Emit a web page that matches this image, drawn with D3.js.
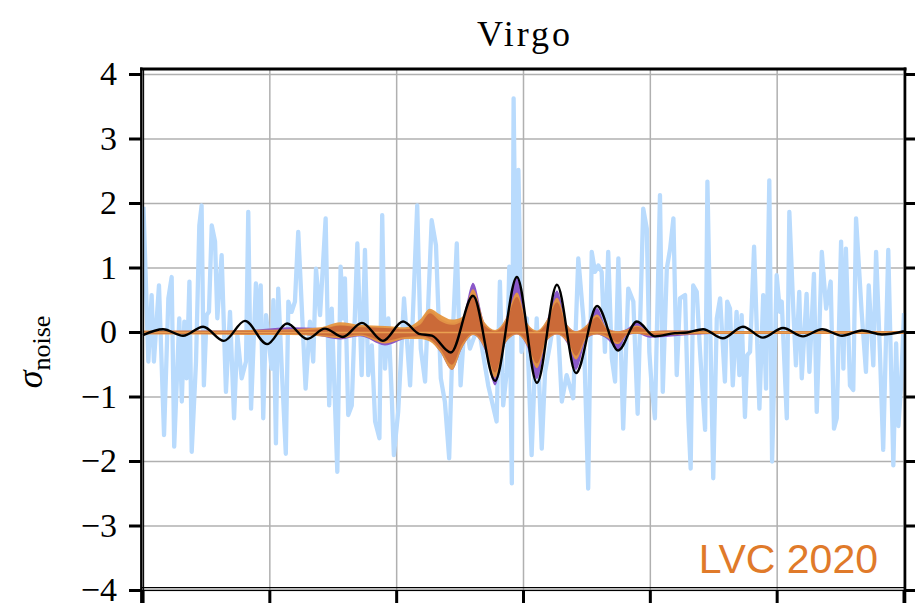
<!DOCTYPE html>
<html>
<head>
<meta charset="utf-8">
<script src="https://cdn.jsdelivr.net/npm/d3@7/dist/d3.min.js"></script>
<style>
  html, body { margin: 0; padding: 0; background: #fff; }
  svg { display: block; }
</style>
</head>
<body>
<div id="chart"></div>
<script>
// Time in ms relative to the event; whitened strain in units of noise sigma.
const xTicks = [-150, -100, -50, 0, 50, 100, 150];
const yTicks = [-4, -3, -2, -1, 0, 1, 2, 3, 4];

// Whitened Virgo data (light blue trace)
const noiseT = [-149.8,-147.9,-146.6,-145.7,-143.7,-141.7,-140.0,-138.7,-137.7,-135.7,-134.7,-133.7,-132.8,-131.7,-130.8,-129.1,-127.8,-126.9,-126.0,-124.9,-124.0,-122.9,-121.6,-120.7,-119.0,-117.3,-115.7,-114.1,-112.8,-111.1,-109.4,-108.5,-107.4,-105.5,-104.5,-103.6,-102.6,-101.5,-99.3,-98.6,-97.6,-96.7,-95.3,-93.7,-92.7,-91.4,-90.1,-88.8,-85.9,-84.2,-82.9,-81.8,-80.2,-78.0,-76.6,-75.6,-73.4,-72.1,-71.0,-70.4,-69.1,-67.7,-65.5,-63.8,-62.5,-61.2,-59.8,-58.5,-56.8,-55.7,-54.6,-53.3,-52.0,-51.1,-49.4,-47.1,-44.7,-41.9,-40.5,-38.8,-36.2,-34.5,-32.6,-31.0,-29.3,-27.9,-26.3,-24.8,-23.1,-21.1,-17.8,-13.9,-10.6,-9.3,-8.0,-6.6,-5.6,-4.6,-3.9,-3.0,-2.0,-0.8,1.3,3.2,5.2,7.2,8.5,10.4,13.1,15.1,17.0,19.6,21.6,23.6,25.5,26.9,28.2,29.5,30.8,32.1,33.4,34.8,36.1,37.4,39.3,41.3,43.3,45.0,47.2,48.6,49.6,50.5,51.8,53.8,54.9,56.5,57.8,59.1,60.4,61.7,63.7,65.0,65.9,66.9,68.3,69.6,71.6,72.5,73.8,74.8,76.2,77.5,79.4,80.3,81.4,82.5,84.0,85.1,86.0,87.3,88.2,89.3,90.9,93.0,94.5,95.6,96.9,98.0,99.8,101.1,101.8,103.8,104.8,106.4,107.4,108.7,109.7,111.6,112.7,114.5,115.6,117.6,119.3,121.1,122.4,123.5,125.2,126.1,127.1,128.7,130.0,131.1,133.3,135.0,136.1,137.9,139.0,140.5,141.8,143.8,145.8,146.9,147.8,148.8,150.0];
const noiseV = [1.95,-0.45,0.58,-0.45,0.73,-1.59,0.53,0.86,-1.77,0.22,-1.07,0.17,-0.71,0.79,-1.85,-0.45,1.66,1.97,-0.82,0.27,0.32,1.66,1.41,0.22,1.20,-0.92,0.32,-1.33,-0.04,-0.71,-0.45,1.87,-1.18,0.76,0.01,0.73,-1.33,0.27,-0.56,0.50,-1.72,0.68,-0.56,-1.88,0.48,0.32,0.48,1.56,-0.87,0.17,-0.45,0.99,0.27,1.77,-1.13,0.37,-2.16,1.02,0.22,0.84,-1.28,-1.13,1.38,-0.66,1.28,-0.66,-0.20,-1.38,-1.64,1.82,-0.56,0.22,-0.92,-1.90,-1.23,0.53,-0.82,1.97,-0.25,-0.76,1.74,1.35,-0.71,-1.07,-1.95,-0.04,1.38,-0.82,0.22,-0.25,0.11,-0.82,-1.38,0.79,-1.13,-0.61,1.02,-2.34,3.63,0.50,2.52,-0.30,0.22,-1.90,0.22,-1.80,-0.61,-0.20,0.48,-1.07,-0.66,-1.02,1.15,0.22,-2.42,1.25,0.94,1.04,0.94,-0.30,1.25,-0.40,-0.76,1.15,-1.49,0.68,0.48,-1.26,1.92,1.61,-0.30,-0.82,-1.33,2.13,-0.92,0.99,1.30,1.77,-0.66,0.53,0.58,-1.33,-2.11,0.73,0.63,-0.30,-1.51,2.34,-0.30,-2.26,0.22,0.53,-0.76,0.48,0.37,-0.82,0.32,-0.66,0.27,-1.31,-0.35,-0.30,1.33,-1.18,0.58,-0.87,2.36,-2.00,0.89,0.32,0.48,-1.33,1.87,0.32,-0.51,0.63,-0.71,0.60,-0.61,0.91,-1.23,1.25,0.37,0.79,-1.49,-1.33,1.41,-0.56,1.30,-0.82,-0.89,1.77,0.32,-0.61,0.73,-0.51,1.25,-0.30,-1.82,1.28,-2.06,-0.17,-1.45,-0.85,0.30];

// Whitened maximum-likelihood waveform (black)
const waveT = [-150.0,-142.1,-134.2,-126.3,-118.1,-109.8,-101.1,-93.2,-85.3,-78.3,-71.2,-63.7,-55.4,-47.5,-41.2,-36.1,-28.6,-19.9,-11.2,-2.6,5.3,13.2,20.7,29.0,37.3,44.7,51.8,59.7,64.5,70.8,78.6,86.5,94.4,102.3,110.2,117.7,125.6,133.4,141.3,150.0];
const waveV = [-0.04,0.05,-0.05,0.09,-0.13,0.18,-0.18,0.14,-0.10,0.06,-0.07,0.15,-0.13,0.17,-0.02,-0.05,-0.31,0.57,-0.75,0.86,-0.78,0.74,-0.63,0.41,-0.28,0.17,-0.06,-0.01,0.00,0.05,-0.09,0.09,-0.08,0.07,-0.06,0.05,-0.05,0.03,-0.03,0.02];

// 90% credible bands of the reconstructions
const bandT    = [-150.0,-127.5,-107.8,-92.0,-80.2,-72.3,-64.5,-54.6,-46.7,-40.8,-36.9,-32.9,-28.2,-24.2,-19.9,-15.2,-11.2,-6.9,-2.6,1.4,5.3,9.3,13.2,17.2,20.7,25.0,29.0,32.9,37.3,40.8,44.7,49.9,55.8,65.6,77.5,150.0];
const lvcHi    = [0.03,0.03,0.04,0.05,0.08,0.16,0.12,0.10,0.08,0.20,0.37,0.28,0.20,0.24,0.67,0.15,0.04,0.22,0.62,0.15,0.03,0.20,0.54,0.12,0.02,0.12,0.28,0.07,0.02,0.05,0.11,0.02,0.03,0.03,0.025,0.025];
const lvcLo    = [-0.03,-0.03,-0.04,-0.04,-0.06,-0.09,-0.05,-0.17,-0.10,-0.10,-0.14,-0.30,-0.58,-0.24,-0.04,-0.26,-0.70,-0.15,-0.03,-0.20,-0.55,-0.12,-0.03,-0.15,-0.42,-0.08,-0.03,-0.08,-0.18,-0.04,-0.02,-0.05,-0.04,-0.03,-0.025,-0.025];
const lvcCoreHi = [0.02,0.02,0.025,0.03,0.05,0.11,0.08,0.07,0.05,0.12,0.30,0.18,0.12,0.18,0.58,0.10,0.02,0.17,0.55,0.10,0.01,0.15,0.47,0.08,0.01,0.09,0.24,0.05,0.01,0.03,0.09,0.01,0.02,0.02,0.015,0.015];
const lvcCoreLo = [-0.02,-0.02,-0.025,-0.02,-0.04,-0.06,-0.03,-0.13,-0.07,-0.06,-0.10,-0.25,-0.50,-0.18,-0.02,-0.20,-0.62,-0.10,-0.02,-0.15,-0.48,-0.08,-0.02,-0.11,-0.36,-0.05,-0.02,-0.05,-0.15,-0.03,-0.01,-0.04,-0.03,-0.02,-0.015,-0.015];
const altHi    = [0.02,0.03,0.04,0.08,0.07,0.12,0.10,0.07,0.06,0.15,0.34,0.22,0.15,0.22,0.77,0.14,0.03,0.22,0.85,0.14,0.02,0.20,0.65,0.12,0.02,0.12,0.38,0.07,0.02,0.06,0.16,0.02,0.03,0.03,0.02,0.01];
const altLo    = [-0.02,-0.02,-0.03,-0.03,-0.06,-0.11,-0.06,-0.20,-0.10,-0.08,-0.12,-0.30,-0.58,-0.24,-0.04,-0.28,-0.82,-0.15,-0.03,-0.22,-0.72,-0.12,-0.03,-0.17,-0.58,-0.09,-0.03,-0.10,-0.26,-0.05,-0.02,-0.08,-0.07,-0.04,-0.02,-0.01];

const W = 915, H = 603;
const svg = d3.select("#chart").append("svg")
  .attr("width", W).attr("height", H)
  .attr("viewBox", `0 0 ${W} ${H}`);

const x = d3.scaleLinear().domain([-150, 150]).range([143, 904]);
const y = d3.scaleLinear().domain([-4, 4]).range([590.5, 74.5]);

const serif = "'Liberation Serif', 'Times New Roman', serif";

// grid
const grid = svg.append("g").attr("stroke", "#b0b0b0").attr("stroke-width", 1.5);
grid.selectAll("line.gx").data(xTicks).join("line")
  .attr("x1", d => x(d)).attr("x2", d => x(d))
  .attr("y1", 69).attr("y2", 590);
grid.selectAll("line.gy").data(yTicks).join("line")
  .attr("x1", 142).attr("x2", 905)
  .attr("y1", d => y(d)).attr("y2", d => y(d));

const plot = svg.append("g");

// data trace
plot.append("path")
  .datum(noiseT.map((t, i) => [t, noiseV[i]]))
  .attr("fill", "none")
  .attr("stroke", "#b9dbfd")
  .attr("stroke-width", 4.3)
  .attr("stroke-linejoin", "round")
  .attr("d", d3.line().x(d => x(d[0])).y(d => y(d[1])));

const band = (hi, lo) => d3.area()
  .curve(d3.curveMonotoneX)
  .x((d, i) => x(bandT[i]))
  .y0((d, i) => y(lo[i]))
  .y1((d, i) => y(hi[i]));

plot.append("path").datum(bandT)
  .attr("fill", "#8a58c9").attr("d", band(altHi, altLo));
plot.append("path").datum(bandT)
  .attr("fill", "#e6963f").attr("fill-opacity", 0.95).attr("d", band(lvcHi, lvcLo));
plot.append("path").datum(bandT)
  .attr("fill", "#c96838").attr("fill-opacity", 0.95).attr("d", band(lvcCoreHi, lvcCoreLo));

// median line of the band
plot.append("line")
  .attr("x1", x(-150)).attr("x2", x(150))
  .attr("y1", y(0)).attr("y2", y(0))
  .attr("stroke", "#e9a050").attr("stroke-width", 1.6);

// waveform
plot.append("path")
  .datum(waveT.map((t, i) => [t, waveV[i]]))
  .attr("fill", "none")
  .attr("stroke", "#000")
  .attr("stroke-width", 2.4)
  .attr("d", d3.line().curve(d3.curveMonotoneX).x(d => x(d[0])).y(d => y(d[1])));

// frame
const frame = svg.append("g").attr("stroke", "#000").attr("fill", "none");
frame.append("line").attr("x1", 140).attr("x2", 906.5).attr("y1", 69).attr("y2", 69).attr("stroke-width", 3);
frame.append("line").attr("x1", 141.3).attr("x2", 141.3).attr("y1", 67.5).attr("y2", H).attr("stroke-width", 2.4);
frame.append("line").attr("x1", 143.6).attr("x2", 143.6).attr("y1", 69).attr("y2", H).attr("stroke-width", 1.1);
frame.append("line").attr("x1", 905).attr("x2", 905).attr("y1", 67.5).attr("y2", H).attr("stroke-width", 2.6);
frame.append("line").attr("x1", 141).attr("x2", 906).attr("y1", 587.6).attr("y2", 587.6).attr("stroke-width", 1.1);
frame.append("line").attr("x1", 141).attr("x2", 906).attr("y1", 590.4).attr("y2", 590.4).attr("stroke-width", 1.4);

// tick marks
frame.selectAll("line.tl").data(yTicks).join("line")
  .attr("x1", 129).attr("x2", 141).attr("y1", d => y(d)).attr("y2", d => y(d)).attr("stroke-width", 3);
frame.selectAll("line.tr").data(yTicks).join("line")
  .attr("x1", 905).attr("x2", 915).attr("y1", d => y(d)).attr("y2", d => y(d)).attr("stroke-width", 3);
frame.selectAll("line.tb").data(xTicks).join("line")
  .attr("x1", d => x(d)).attr("x2", d => x(d)).attr("y1", 591).attr("y2", H).attr("stroke-width", 3);

// y tick labels
svg.append("g").selectAll("text").data(yTicks).join("text")
  .attr("x", 117).attr("y", d => y(d))
  .attr("dy", "0.31em")
  .attr("text-anchor", "end")
  .attr("font-family", serif).attr("font-size", 34)
  .text(d => d < 0 ? "\u2212" + Math.abs(d) : String(d));

// title
svg.append("text")
  .attr("x", 525).attr("y", 46)
  .attr("text-anchor", "middle")
  .attr("font-family", serif).attr("font-size", 36)
  .attr("letter-spacing", 3)
  .text("Virgo");

// y axis label
const yl = svg.append("text")
  .attr("transform", "translate(42,352) rotate(-90)")
  .attr("text-anchor", "middle")
  .attr("font-family", serif).attr("font-size", 36);
yl.append("tspan").attr("font-style", "italic").text("\u03c3");
yl.append("tspan").attr("font-size", 26).attr("dy", 8).text("noise");

// source label
svg.append("text")
  .attr("x", 878).attr("y", 573)
  .attr("text-anchor", "end")
  .attr("font-family", "'Liberation Sans', Arial, sans-serif")
  .attr("font-size", 41)
  .attr("fill", "#e07a2a")
  .text("LVC 2020");
</script>
</body>
</html>
